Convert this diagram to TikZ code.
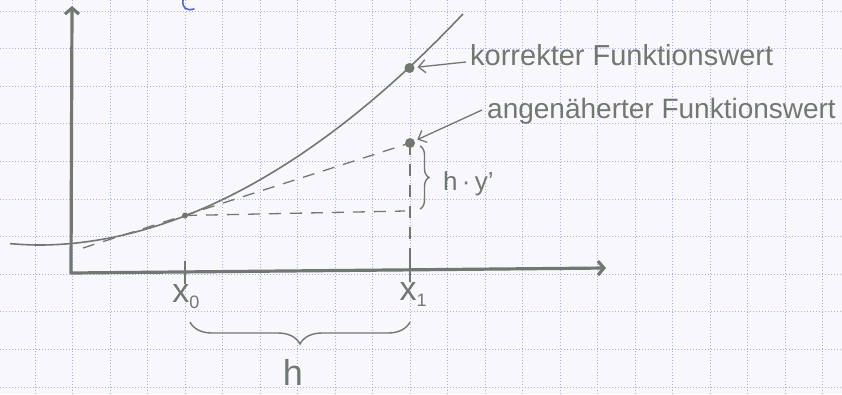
\documentclass[tikz,border=0pt]{standalone}
\usepackage{fontspec}
\setmainfont{Liberation Sans}
\usetikzlibrary{arrows.meta,decorations.pathreplacing}
\definecolor{ink}{HTML}{737771}
\definecolor{paper}{HTML}{F8F7FC}
\definecolor{gridblue}{HTML}{A6B0E8}
\definecolor{penblue}{HTML}{5566D6}
\begin{document}
\begin{tikzpicture}[x=1pt,y=-1pt,
  gridline/.style={gridblue,line width=0.9pt,dash pattern=on 1.4pt off 1.6pt},
  axisline/.style={ink,line width=3.2pt,line cap=round},
  curveline/.style={ink,line width=1.6pt},
  dashline/.style={ink,line width=1.3pt,dash pattern=on 12pt off 9pt},
  ticks/.style={ink,line width=1.6pt},
  dotnode/.style={circle,fill=ink,inner sep=0pt,minimum size=#1},
  hand/.style={text=ink,inner sep=0pt,font=\fontsize{28}{30}\selectfont},
  ptr/.style={ink,line width=1.3pt,-{Straight Barb[length=7pt,width=13pt]}},
  bracestyle/.style={ink,line width=1.4pt,decorate,decoration={brace,amplitude=#1}}
]
\fill[paper] (0,0) rectangle (842,394);
\useasboundingbox (0,0) rectangle (842,394);
% grid
\foreach \i in {0,...,21} \draw[gridline] ({35+37.5*\i},0) -- ({35+37.5*\i},394);
\foreach \j in {0,...,10} \draw[gridline] (0,{11+37.6*\j}) -- (842,{11+37.6*\j});
% blue remnant at top
\draw[penblue,line width=1.6pt,line cap=round] (183,0) .. controls (182,8) and (186,11) .. (194,9);
% axes
\coordinate (O) at (71,273);
\coordinate (ytop) at (72,6);
\coordinate (xend) at (606,268);
\draw[axisline,-{Straight Barb[length=6pt,width=14pt]}] (O) -- (ytop);
\draw[axisline,-{Straight Barb[length=6pt,width=14pt]}] (O) -- (xend);
% curve
\draw[curveline] plot[domain=10:463,samples=90] (\x,{245-14.16*pow(abs(\x-40)/100+0.001,1.936)});
% points
\node[dotnode=6pt] (p0) at (185,215.5) {};
\node[dotnode=10pt] (p1) at (409.5,68) {};
\node[dotnode=10pt] (p2) at (410,143) {};
% dashed lines
\coordinate (t0) at (83,248);
\coordinate (h1) at (405,211);
\coordinate (v1) at (410,272);
\draw[dashline] (t0) -- (p2.center);
\draw[dashline] (p0.center) -- (h1);
\draw[dashline] (p2.center) -- (v1);
% ticks
\coordinate (tx0a) at (185,261);
\coordinate (tx0b) at (185,284);
\coordinate (tx1a) at (410,256);
\coordinate (tx1b) at (410,282);
\draw[ticks] (tx0a) -- (tx0b);
\draw[ticks] (tx1a) -- (tx1b);
% labels on axis
\node[hand,font=\fontsize{34}{36}\selectfont,anchor=base] (lx0) at (186,302) {x\raisebox{-6pt}{\fontsize{18}{18}\selectfont 0}};
\node[hand,font=\fontsize{34}{36}\selectfont,anchor=base] (lx1) at (413,300) {x\raisebox{-6pt}{\fontsize{18}{18}\selectfont 1}};
% bottom brace
\coordinate (b0) at (190,322);
\coordinate (b1) at (410,322);
\draw[bracestyle=22pt,decoration={mirror}] (b0) -- (b1);
\node[hand,font=\fontsize{36}{38}\selectfont,anchor=base] (lh) at (293,385) {h};
% right brace
\coordinate (r0) at (420,146);
\coordinate (r1) at (420,209);
\draw[bracestyle=9pt] (r0) -- (r1);
\node[hand,font=\fontsize{26}{28}\selectfont,anchor=base west] (lhy) at (443,190) {h\,·\,y'};
% texts with pointers
\node[hand,font=\fontsize{29}{31}\selectfont,anchor=base west] (ktext) at (470,65) {korrekter Funktionswert};
\node[hand,anchor=base west] (atext) at (487,118) {angenäherter Funktionswert};
\draw[ptr,shorten >=8pt] ([shift={(-4,-3)}]ktext.base west) -- (p1.center);
\draw[ptr,shorten >=8pt] ([shift={(-5,-8)}]atext.base west) -- (p2.center);
\end{tikzpicture}
\end{document}
